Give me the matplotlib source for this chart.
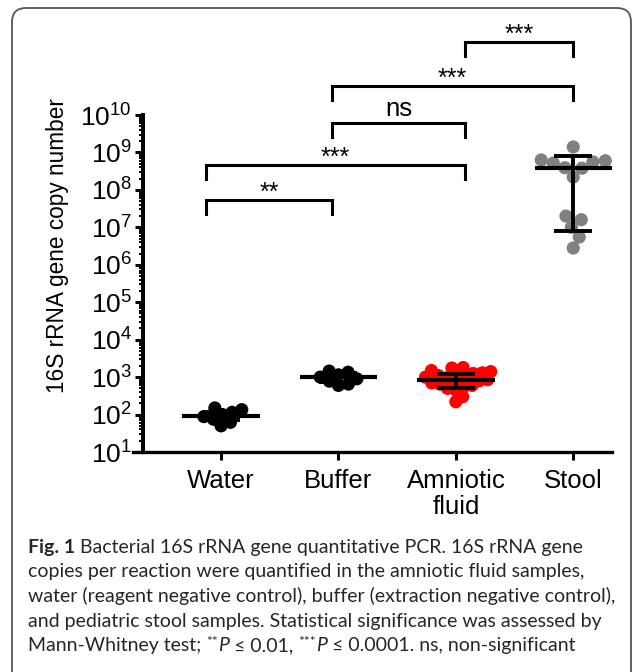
import numpy as np
import matplotlib
matplotlib.use('Agg')
import matplotlib.pyplot as plt
from matplotlib.patches import FancyBboxPatch
from matplotlib.transforms import IdentityTransform
from matplotlib.ticker import LogLocator, NullFormatter, LogFormatterSciNotation

plt.rcParams['font.family'] = ['Liberation Sans', 'DejaVu Sans']
plt.rcParams['mathtext.fontset'] = 'custom'
plt.rcParams['mathtext.rm'] = 'Liberation Sans'
plt.rcParams['mathtext.it'] = 'Liberation Sans:italic'
plt.rcParams['mathtext.bf'] = 'Liberation Sans:bold'

# ---------------- data ----------------
categories = ['Water', 'Buffer', 'Amniotic\nfluid', 'Stool']
water = [150, 135, 115, 100, 88, 75, 62, 50]
buffer_ = [1450, 1350, 1150, 1000, 900, 780, 650, 600]
amniotic = [1800, 1750, 1500, 1400, 1300, 1250, 1200, 1100, 1000, 950, 900,
            850, 800, 750, 700, 650, 600, 550, 500, 450, 300, 220]
stool = [1.4e9, 6.3e8, 6.0e8, 5.6e8, 5.2e8, 3.9e8, 3.8e8, 2.2e8,
         2.0e7, 1.6e7, 1.0e7, 5.5e6, 2.8e6]
medians = [90, 1000, 850, 3.9e8]
q1 = [70, 750, 520, 8e6]
q3 = [120, 1250, 1200, 8e8]
point_colors = ['black', 'black', '#ff0000', '#808080']
groups = [water, buffer_, amniotic, stool]
swarm_spacing_px = [10, 10, 8.5, 12.5]

comparisons = [(0, 1, '**'), (0, 2, '***'), (1, 2, 'ns'), (1, 3, '***'), (2, 3, '***')]
bracket_levels = [7.73, 8.67, 9.79, 10.78, 11.95]   # log10 heights
bracket_x = {0: -0.13, 1: 0.945, 2: 2.08, 3: 3.0}

caption_lines = [
    [("Fig. 1", 'bold'), (" Bacterial 16S rRNA gene quantitative PCR. 16S rRNA gene", 'normal')],
    [("copies per reaction were quantified in the amniotic fluid samples,", 'normal')],
    [("water (reagent negative control), buffer (extraction negative control),", 'normal')],
    [("and pediatric stool samples. Statistical significance was assessed by", 'normal')],
    [("Mann-Whitney test; ", 'normal'), ("**", 'sup'), ("P", 'italic'), (" \u2264 0.01, ", 'normal'),
     ("***", 'sup'), ("P", 'italic'), (" \u2264 0.0001. ns, non-significant", 'normal')],
]

# ---------------- figure ----------------
W, H = 633, 672
fig = plt.figure(figsize=(W / 100, H / 100), dpi=100)

frame = FancyBboxPatch((12, -20), 619, 672 - 8 + 20,
                       boxstyle="round,pad=0,rounding_size=14",
                       transform=IdentityTransform(), fill=False,
                       edgecolor='#555555', linewidth=1.3)
fig.patches.append(frame)

ax_left, ax_right = 133, 612
ax_top, ax_bot = 115, 452
ax = fig.add_axes([ax_left / W, (H - ax_bot) / H, (ax_right - ax_left) / W, (ax_bot - ax_top) / H])
ax.set_yscale('log')
ax.set_ylim(10, 1e10)
ax.set_xlim(-0.75, 3.33)

for s in ['top', 'right']:
    ax.spines[s].set_visible(False)
ax.spines['left'].set_position(('axes', 10 / (ax_right - ax_left)))
ax.spines['left'].set_linewidth(2.9)
ax.spines['bottom'].set_linewidth(2.4)

ax.yaxis.set_major_locator(LogLocator(base=10, numticks=20))
ax.yaxis.set_minor_locator(LogLocator(base=10, subs=np.arange(2, 10), numticks=20))
ax.yaxis.set_minor_formatter(NullFormatter())
ax.yaxis.set_major_formatter(LogFormatterSciNotation())
ax.tick_params(axis='y', which='major', length=6, width=2.2, labelsize=19, pad=2)
ax.tick_params(axis='y', which='minor', length=3, width=1.4)
ax.tick_params(axis='x', which='major', length=6, width=2.2, labelsize=18.5, pad=6)
ax.set_xticks(range(len(categories)))
ax.set_xticklabels(categories, linespacing=1.1)

ax.set_ylabel('16S rRNA gene copy number', fontsize=16.3, va='center')
ax.yaxis.set_label_coords((58 - ax_left) / (ax_right - ax_left), (ax_bot - 246) / (ax_bot - ax_top))


def swarm(ax, x0, vals, d_px):
    trans = ax.transData
    pts = trans.transform(np.column_stack([np.full(len(vals), float(x0)), vals]))
    ys = pts[:, 1]
    px_per_x = trans.transform((1, 1))[0] - trans.transform((0, 1))[0]
    order = np.argsort(ys)
    placed = []
    xs = np.zeros(len(vals))
    for i in order:
        y = ys[i]
        cands = [0.0]
        for (px, py) in placed:
            dy = y - py
            if abs(dy) < d_px:
                dx = np.sqrt(d_px ** 2 - dy ** 2)
                cands += [px + dx, px - dx]
        cands.sort(key=abs)
        for c in cands:
            if all((c - px) ** 2 + (y - py) ** 2 >= d_px ** 2 - 1e-6 for px, py in placed):
                xs[i] = c
                break
        placed.append((xs[i], y))
    return x0 + xs / px_per_x


for i, vals in enumerate(groups):
    xs = swarm(ax, i, vals, swarm_spacing_px[i])
    ax.scatter(xs, vals, s=90, color=point_colors[i], edgecolors='none', zorder=2, clip_on=False)
    ax.plot([i - 0.33, i + 0.33], [medians[i], medians[i]], color='black', lw=3.0, zorder=3,
            solid_capstyle='butt')
    ax.errorbar([i], [medians[i]], yerr=[[medians[i] - q1[i]], [q3[i] - medians[i]]],
                fmt='none', ecolor='black', elinewidth=2.8, capsize=14, capthick=2.8, zorder=3)

for (a, b, lab), lev in zip(comparisons, bracket_levels):
    xa, xb = bracket_x[a], bracket_x[b]
    top = 10 ** lev
    leg = 10 ** (lev - 0.37)
    ax.plot([xa, xa, xb, xb], [leg, top, top, leg], color='black', lw=2.2, clip_on=False,
            solid_joinstyle='miter', zorder=4)
    if lab == 'ns':
        ax.annotate(lab, ((xa + xb) / 2, top), xytext=(0, 1.0), textcoords='offset points',
                    ha='center', va='bottom', fontsize=18.5, annotation_clip=False)
    else:
        ax.annotate(lab, ((xa + xb) / 2, top), xytext=(0, -3.5), textcoords='offset points',
                    ha='center', va='bottom', fontsize=18, annotation_clip=False)

# ---------------- caption ----------------
renderer = fig.canvas.get_renderer()
cap_family = ['Lato', 'DejaVu Sans']
cap_size = 14
y0 = 553
for li, runs in enumerate(caption_lines):
    x = 28
    yb = y0 + li * 24.5
    for txt, style in runs:
        kw = dict(family=cap_family, fontsize=cap_size, color='#262626')
        ydisp = H - yb
        if style == 'bold':
            kw['weight'] = 'bold'
        elif style == 'italic':
            kw['style'] = 'italic'
        elif style == 'sup':
            kw['fontsize'] = cap_size * 0.7
            ydisp = H - yb + 5
        t = fig.text(x / W, ydisp / H, txt, ha='left', va='baseline', **kw)
        bb = t.get_window_extent(renderer)
        x = bb.x1

fig.savefig('out.png', dpi=100)
